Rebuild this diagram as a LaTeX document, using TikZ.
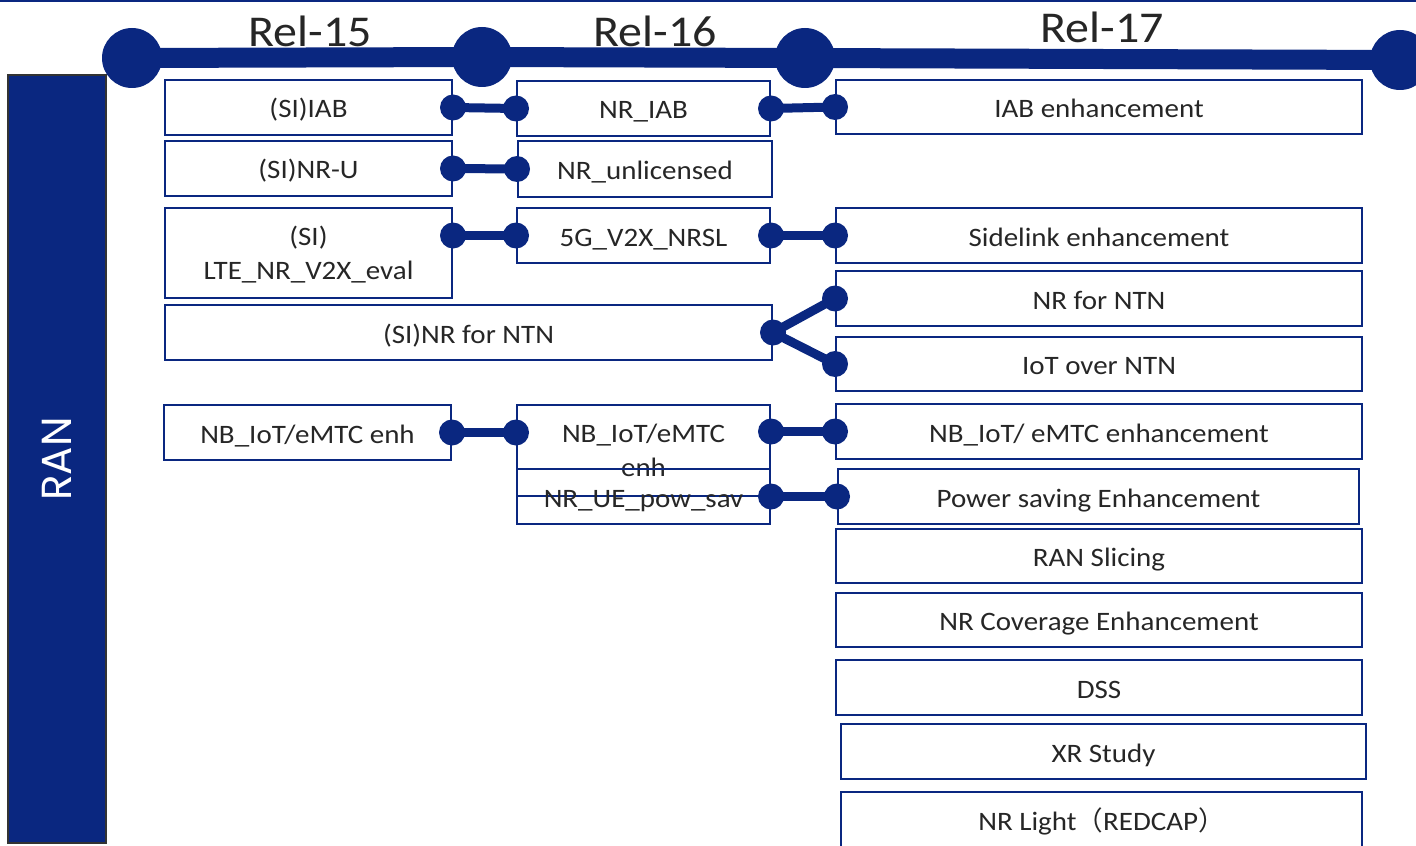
\documentclass[tikz,border=0pt]{standalone}
\usepackage{fontspec}
\setmainfont{Carlito}[FakeStretch=1.09]
\newfontfamily\ranfont{Poppins}
\newfontfamily\cjkfont{Noto Sans CJK SC}
\usetikzlibrary{positioning}

\definecolor{ranblue}{RGB}{10,39,128}
\definecolor{txtgray}{RGB}{38,38,38}

\tikzset{
  boxbase/.style={draw=ranblue, line width=1pt, inner sep=0pt, align=center, text depth=0.5pt,
    text=txtgray, font=\fontsize{13.3}{17}\selectfont},
  relbox/.style={boxbase, text height=10.5pt, text depth=0pt},
  link/.style={draw=ranblue, line width=4.5pt},
  milestone/.style={circle, fill=ranblue, minimum size=30pt, inner sep=0pt},
  rellabel/.style={text=txtgray, inner sep=0pt, font=\fontsize{22}{26}\selectfont},
}

\begin{document}
\begin{tikzpicture}[x=0.5pt,y=0.5pt,yscale=-1,xscale=1]
\useasboundingbox (0,0) rectangle (1416,845);

%Straight Lines (frame top)
\draw [ranblue, line width=1pt] (0,1) -- (1416,1) ;

%Timeline
\node [milestone] (m15) at (132,58) {};
\node [milestone] (m16) at (482,57) {};
\node [milestone] (m17) at (805,58) {};
\node [milestone] (m18) at (1400,60) {};
\draw [ranblue, line width=10pt] (m15.center) -- (m16.center) -- (m17.center) -- (m18.center) ;

% Text Node
\node [rellabel, anchor=base] (rel15) at (310,47) {Rel-15};
% Text Node
\node [rellabel, anchor=base] (rel16) at (655,47) {Rel-16};
% Text Node
\node [rellabel, anchor=base] (rel17) at (1102,43) {Rel-17};

%Shape: Rectangle (RAN)
\node [draw=black!80, line width=0.75pt, fill=ranblue, rotate=90, minimum width=384pt, minimum height=49pt,
  text=white, font=\ranfont\fontsize{21}{24}\selectfont] (ran) at (57,459) {RAN};

%Rel-15 boxes
\node [relbox, minimum width=143.5pt, minimum height=27.5pt] (siiab) at (308.5,107.5) {(SI)IAB};
\node [relbox, minimum width=143.5pt, minimum height=27.5pt] (sinru) at (308.5,168.5) {(SI)NR-U};
\node [boxbase, minimum width=143.5pt, minimum height=45pt] (siv2x) at (308.5,253) {(SI)\\LTE\_NR\_V2X\_eval};
\node [relbox, minimum width=303.5pt, minimum height=27.5pt] (sintn) at (468.5,332.5) {(SI)NR for NTN};
\node [relbox, minimum width=143.5pt, minimum height=27.5pt] (nbc1) at (307.5,432.5) {NB\_IoT/eMTC enh};

%Rel-16 boxes
\node [relbox, minimum width=126.5pt, minimum height=27.5pt] (nriab) at (643.5,108.5) {NR\_IAB};
\node [relbox, minimum width=127pt, minimum height=28pt] (nru) at (645,169) {NR\_unlicensed};
\node [relbox, minimum width=126.5pt, minimum height=27.5pt] (v2x) at (643.5,235.5) {5G\_V2X\_NRSL};
\node [boxbase, minimum width=126.5pt, minimum height=45.5pt] (nbc2) at (643.5,450.5) {NB\_IoT/eMTC\\enh};
\node [relbox, minimum width=126.5pt, minimum height=27.5pt] (uepow) at (643.5,496.5) {NR\_UE\_pow\_sav};

%Rel-17 boxes
\node [relbox, minimum width=263pt, minimum height=27pt] (iabenh) at (1099,107) {IAB enhancement};
\node [relbox, minimum width=263pt, minimum height=27.5pt] (slenh) at (1099,235.5) {Sidelink enhancement};
\node [relbox, minimum width=263pt, minimum height=27.5pt] (ntn) at (1099,298.5) {NR for NTN};
\node [relbox, minimum width=263pt, minimum height=27pt] (iotntn) at (1099,364) {IoT over NTN};
\node [relbox, minimum width=263pt, minimum height=27.5pt] (nbc3) at (1099,431.5) {NB\_IoT/ eMTC enhancement};
\node [relbox, minimum width=260.5pt, minimum height=27.5pt] (pwrsav) at (1098.5,496.5) {Power saving Enhancement};
\node [relbox, minimum width=263pt, minimum height=27pt] (slicing) at (1099,556) {RAN Slicing};
\node [relbox, minimum width=263pt, minimum height=27pt] (coverage) at (1099,620) {NR Coverage Enhancement};
\node [relbox, minimum width=263pt, minimum height=27.5pt] (dss) at (1099,687.5) {DSS};
\node [relbox, minimum width=262.5pt, minimum height=27.5pt] (xr) at (1103.5,751.5) {XR Study};
\node [relbox, minimum width=260.5pt, minimum height=28pt] (redcap) at (1101.5,820) {NR Light{\cjkfont （}REDCAP{\cjkfont ）}};

%Straight Lines (links)
\draw [link] (siiab.east) -- (nriab.west) ;
\fill [ranblue] (siiab.east) circle [radius=6.5pt] (nriab.west) circle [radius=6.5pt] ;
\draw [link] (nriab.east) -- (iabenh.west) ;
\fill [ranblue] (nriab.east) circle [radius=6.5pt] (iabenh.west) circle [radius=6.5pt] ;
\draw [link] (sinru.east) -- (nru.west) ;
\fill [ranblue] (sinru.east) circle [radius=6.5pt] (nru.west) circle [radius=6.5pt] ;
\draw [link] (siv2x.east |- v2x.west) -- (v2x.west) ;
\fill [ranblue] (siv2x.east |- v2x.west) circle [radius=6.5pt] (v2x.west) circle [radius=6.5pt] ;
\draw [link] (v2x.east) -- (slenh.west) ;
\fill [ranblue] (v2x.east) circle [radius=6.5pt] (slenh.west) circle [radius=6.5pt] ;
\draw [link] (ntn.west) -- (sintn.east) -- (iotntn.west) ;
\fill [ranblue] (sintn.east) circle [radius=6.5pt] (ntn.west) circle [radius=6.5pt] (iotntn.west) circle [radius=6.5pt] ;
\draw [link] (nbc1.east) -- (nbc1.east -| nbc2.west) ;
\fill [ranblue] (nbc1.east) circle [radius=6.5pt] (nbc1.east -| nbc2.west) circle [radius=6.5pt] ;
\draw [link] (nbc3.west -| nbc2.east) -- (nbc3.west) ;
\fill [ranblue] (nbc3.west -| nbc2.east) circle [radius=6.5pt] (nbc3.west) circle [radius=6.5pt] ;
\draw [link] (uepow.east) -- (pwrsav.west) ;
\fill [ranblue] (uepow.east) circle [radius=6.5pt] (pwrsav.west) circle [radius=6.5pt] ;

\end{tikzpicture}
\end{document}
